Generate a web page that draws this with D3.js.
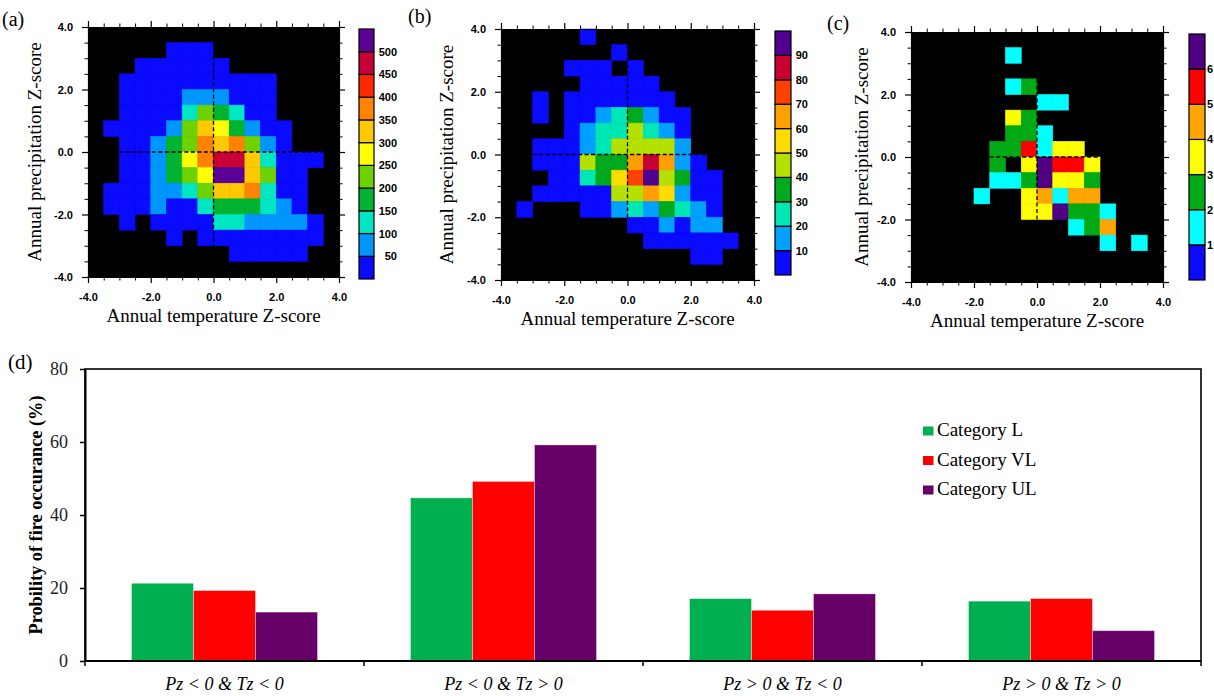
<!DOCTYPE html>
<html><head><meta charset="utf-8">
<script src="https://cdn.jsdelivr.net/npm/d3@7"></script>
<style>body{margin:0;background:#fff;} svg{display:block;}</style>
</head><body>
<svg id="fig" width="1214" height="696"></svg>
<script>
// ---------- joint distribution data (0.5 x 0.5 Z-score bins) ----------
// rows: precipitation Z from +4 (top) down to -4; columns: temperature Z from -4 to +4
const zMajorTicks = [-4, -2, 0, 2, 4];
const zMinorTicks = [-3.5, -3, -2.5, -1.5, -1, -0.5, 0.5, 1, 1.5, 2.5, 3, 3.5];
const binWidth = 0.5;

const countsL = [
  [0,0,0,0,0,0,0,0,0,0,0,0,0,0,0,0],
  [0,0,0,0,0,8,14,11,0,0,0,0,0,0,0,0],
  [0,0,0,6,18,25,30,27,12,0,0,0,0,0,0,0],
  [0,0,9,22,34,41,46,44,38,29,17,7,0,0,0,0],
  [0,0,14,31,43,48,72,88,64,45,26,10,0,0,0,0],
  [0,0,19,36,47,49,118,214,168,124,41,15,0,0,0,0],
  [0,11,24,40,46,83,236,318,284,186,92,33,9,0,0,0],
  [0,0,27,44,93,162,229,362,336,371,218,78,21,0,0,0],
  [0,0,25,42,88,171,268,377,472,486,331,137,38,16,6,0],
  [0,0,22,39,81,158,241,291,513,532,323,207,34,12,0,0],
  [0,13,28,45,76,63,129,233,316,342,368,112,30,9,0,0],
  [0,10,26,37,54,44,40,108,176,169,152,119,58,16,0,0],
  [0,0,15,0,33,47,46,43,131,112,77,69,61,52,18,0],
  [0,0,0,0,0,12,0,38,42,46,44,39,31,24,11,0],
  [0,0,0,0,0,0,0,0,0,20,26,22,17,8,0,0],
  [0,0,0,0,0,0,0,0,0,0,0,0,0,0,0,0]
];
const levelsL = [50,100,150,200,250,300,350,400,450,500];
const colorsL = ["#0a0aff","#0096ff","#00e6c3","#00b432","#6ed200","#ffff00","#ffc800","#ff8200","#ff2800","#c80037","#5a0096"];

const countsVL = [
  [0,0,0,0,0,2,0,0,0,0,0,0,0,0,0,0],
  [0,0,0,0,0,0,0,1,0,0,0,0,0,0,0,0],
  [0,0,0,0,2,3,1,0,2,0,0,0,0,0,0,0],
  [0,0,0,0,0,4,6,5,3,2,0,0,0,0,0,0],
  [0,0,1,0,3,6,8,9,7,5,2,0,0,0,0,0],
  [0,0,1,0,5,8,14,24,33,16,7,3,0,0,0,0],
  [0,0,0,0,6,13,22,27,43,25,12,4,0,0,0,0],
  [0,0,2,5,8,17,28,44,47,42,41,14,0,0,0,0],
  [0,0,3,6,9,46,36,38,63,84,66,18,5,0,0,0],
  [0,0,0,4,8,24,35,56,76,93,45,32,7,3,0,0],
  [0,0,2,5,7,9,8,44,46,64,57,17,6,2,0,0],
  [0,1,0,0,0,6,9,13,23,16,34,26,12,5,0,0],
  [0,0,0,0,0,0,0,0,7,8,14,9,12,11,0,0],
  [0,0,0,0,0,0,0,0,0,5,6,4,3,2,1,0],
  [0,0,0,0,0,0,0,0,0,0,0,0,3,2,0,0],
  [0,0,0,0,0,0,0,0,0,0,0,0,0,0,0,0]
];
const levelsVL = [10,20,30,40,50,60,70,80,90];
const colorsVL = ["#0a0aff","#00a0ff","#00e6b4","#00aa1e","#b4e100","#ffdc00","#ffa000","#ff4100","#c80032","#500090"];

const countsUL = [
  [0,0,0,0,0,0,0,0,0,0,0,0,0,0,0,0],
  [0,0,0,0,0,0,1,0,0,0,0,0,0,0,0,0],
  [0,0,0,0,0,0,0,0,0,0,0,0,0,0,0,0],
  [0,0,0,0,0,0,1,2,0,0,0,0,0,0,0,0],
  [0,0,0,0,0,0,0,0,1,1,0,0,0,0,0,0],
  [0,0,0,0,0,0,3,2,0,0,0,0,0,0,0,0],
  [0,0,0,0,0,0,2,2,1,0,0,0,0,0,0,0],
  [0,0,0,0,0,2,2,5,1,3,3,0,0,0,0,0],
  [0,0,0,0,0,2,0,3,6,5,5,3,0,0,0,0],
  [0,0,0,0,0,1,1,2,6,3,3,2,0,0,0,0],
  [0,0,0,0,1,0,0,3,4,1,4,4,0,0,0,0],
  [0,0,0,0,0,0,0,3,3,6,2,2,1,0,0,0],
  [0,0,0,0,0,0,0,0,0,0,1,2,4,0,0,0],
  [0,0,0,0,0,0,0,0,0,0,0,0,1,0,1,0],
  [0,0,0,0,0,0,0,0,0,0,0,0,0,0,0,0],
  [0,0,0,0,0,0,0,0,0,0,0,0,0,0,0,0]
];
const levelsUL = [1,2,3,4,5,6];
const colorsUL = ["#0a0aff","#00ffff","#00aa14","#ffff00","#ffa500","#ff0000","#500082"];

// zero-anomaly reference lines (data units): horizontal span in T, vertical span in P
const crossL  = {t: [-3, 3.5],   p: [-3, 3.5]};
const crossVL = {t: [-3, 2.5],   p: [-2, 3.5]};
const crossUL = {t: [-1.5, 2],   p: [-2, 2.5]};

// ---------- probability of fire occurrence ----------
const quadrants = ["Pz < 0 & Tz < 0", "Pz < 0 & Tz > 0", "Pz > 0 & Tz < 0", "Pz > 0 & Tz > 0"];
const seriesNames = ["Category L", "Category VL", "Category UL"];
const probL  = [21.3, 44.7, 17.1, 16.4];
const probVL = [19.3, 49.2, 13.9, 17.1];
const probUL = [13.4, 59.2, 18.4, 8.3];
const seriesColors = ["#00b050", "#ff0000", "#660066"];
const probTicks = [0, 20, 40, 60, 80];

// ---------- drawing ----------
const svg = d3.select("#fig");
const SERIF = "'Liberation Serif', 'Times New Roman', serif";
const SANS = "'Liberation Sans', Arial, Helvetica, sans-serif";
const fmt1 = d => d.toFixed(1);

function heatPanel(cfg) {
  const g = svg.append("g");
  const x = d3.scaleLinear().domain([-4, 4]).range([cfg.left, cfg.right]);
  const y = d3.scaleLinear().domain([-4, 4]).range([cfg.bottom, cfg.top]);
  const color = d3.scaleThreshold().domain(cfg.levels).range(cfg.colors);

  g.append("rect").attr("x", cfg.left).attr("y", cfg.top)
    .attr("width", cfg.right - cfg.left).attr("height", cfg.bottom - cfg.top)
    .attr("fill", "#000");

  const cells = [];
  cfg.counts.forEach((row, j) => row.forEach((v, i) => {
    if (v > 0) cells.push({t: -4 + i * binWidth, p: 4 - j * binWidth, v});
  }));
  g.selectAll("rect.cell").data(cells).join("rect").attr("class", "cell")
    .attr("x", d => x(d.t)).attr("y", d => y(d.p))
    .attr("width", d => x(d.t + binWidth) - x(d.t))
    .attr("height", d => y(d.p - binWidth) - y(d.p))
    .attr("fill", d => color(d.v))
    .attr("stroke", d => color(d.v)).attr("stroke-width", 0.6);

  // dashed zero lines
  g.append("line").attr("x1", x(cfg.cross.t[0])).attr("x2", x(cfg.cross.t[1]))
    .attr("y1", y(0)).attr("y2", y(0))
    .attr("stroke", "#000").attr("stroke-width", 1.3).attr("stroke-dasharray", "4,2.5");
  g.append("line").attr("x1", x(0)).attr("x2", x(0))
    .attr("y1", y(cfg.cross.p[1])).attr("y2", y(cfg.cross.p[0]))
    .attr("stroke", "#000").attr("stroke-width", 1.3).attr("stroke-dasharray", "4,2.5");

  // axes: outward ticks on all sides, labels on left and bottom
  const sides = [
    {make: () => d3.axisBottom(x), tr: `translate(0,${cfg.bottom})`, lab: true, pad: 10},
    {make: () => d3.axisTop(x), tr: `translate(0,${cfg.top})`, lab: false, pad: 3},
    {make: () => d3.axisLeft(y), tr: `translate(${cfg.left},0)`, lab: true, pad: 9},
    {make: () => d3.axisRight(y), tr: `translate(${cfg.right},0)`, lab: false, pad: 3}
  ];
  sides.forEach(a => {
    const major = g.append("g").attr("transform", a.tr)
      .call(a.make().tickValues(zMajorTicks).tickSize(6).tickSizeOuter(0).tickPadding(a.pad)
        .tickFormat(a.lab ? fmt1 : ""));
    major.selectAll("text").attr("font-family", SANS).attr("font-weight", "bold")
      .attr("font-size", 11).attr("fill", "#000");
    major.selectAll("line").attr("stroke", "#000").attr("stroke-width", 1.2);
    major.select(".domain").attr("stroke", "#000").attr("stroke-width", 1.2);
    const minor = g.append("g").attr("transform", a.tr)
      .call(a.make().tickValues(zMinorTicks).tickSize(3.5).tickSizeOuter(0).tickFormat(""));
    minor.select(".domain").remove();
    minor.selectAll("line").attr("stroke", "#000").attr("stroke-width", 1);
  });

  // axis titles
  g.append("text").attr("x", (cfg.left + cfg.right) / 2).attr("y", cfg.bottom + 45)
    .attr("text-anchor", "middle").attr("font-family", SERIF).attr("font-size", 19)
    .text("Annual temperature Z-score");
  g.append("text")
    .attr("transform", `translate(${cfg.left - cfg.yTitleGap},${(cfg.top + cfg.bottom) / 2}) rotate(-90)`)
    .attr("text-anchor", "middle").attr("font-family", SERIF).attr("font-size", 19)
    .text("Annual precipitation Z-score");

  // panel letter
  g.append("text").attr("x", cfg.letterX).attr("y", cfg.letterY)
    .attr("font-family", SERIF).attr("font-size", 20).text(cfg.letter);

  // colour bar
  const n = cfg.colors.length;
  const cb = d3.scaleLinear().domain([0, n]).range([cfg.cb.y1, cfg.cb.y0]);
  g.selectAll("rect.cb").data(cfg.colors).join("rect").attr("class", "cb")
    .attr("x", cfg.cb.x).attr("width", cfg.cb.w)
    .attr("y", (c, k) => cb(k + 1)).attr("height", (c, k) => cb(k) - cb(k + 1))
    .attr("fill", c => c).attr("stroke", "#000").attr("stroke-width", 1.2);
  g.selectAll("text.cbl").data(cfg.levels).join("text").attr("class", "cbl")
    .attr("x", cfg.cb.labelX).attr("y", (v, k) => cb(k + 1))
    .attr("dy", "0.36em").attr("text-anchor", "end")
    .attr("font-family", SANS).attr("font-weight", "bold").attr("font-size", 11)
    .text(v => v);
}

heatPanel({counts: countsL, levels: levelsL, colors: colorsL, cross: crossL,
  left: 88, right: 339, top: 27, bottom: 277, yTitleGap: 47,
  letter: "(a)", letterX: 2, letterY: 26,
  cb: {x: 359, w: 15, y0: 29, y1: 279, labelX: 397}});
heatPanel({counts: countsVL, levels: levelsVL, colors: colorsVL, cross: crossVL,
  left: 501, right: 754, top: 29, bottom: 280, yTitleGap: 48,
  letter: "(b)", letterX: 408, letterY: 23,
  cb: {x: 775, w: 16, y0: 31, y1: 275, labelX: 808}});
heatPanel({counts: countsUL, levels: levelsUL, colors: colorsUL, cross: crossUL,
  left: 911, right: 1163, top: 32, bottom: 282, yTitleGap: 43,
  letter: "(c)", letterX: 827, letterY: 30,
  cb: {x: 1189, w: 16, y0: 34, y1: 280, labelX: 1213}});

// ---------- grouped bar chart ----------
(function () {
  const left = 85, right = 1201, top = 369, bottom = 661;
  const g = svg.append("g");
  const x0 = d3.scaleBand().domain(quadrants).range([left, right]).padding(0);
  const x1 = d3.scaleBand().domain(seriesNames).range([0, x0.bandwidth()])
    .paddingInner(0).paddingOuter(0.75);
  const y = d3.scaleLinear().domain([0, 80]).range([bottom, top]);
  const color = d3.scaleOrdinal().domain(seriesNames).range(seriesColors);
  const values = [probL, probVL, probUL];

  const rows = quadrants.map((q, qi) => ({q, bars: seriesNames.map((s, si) => ({s, v: values[si][qi]}))}));
  g.selectAll("g.grp").data(rows).join("g").attr("class", "grp")
    .attr("transform", d => `translate(${x0(d.q)},0)`)
    .selectAll("rect").data(d => d.bars).join("rect")
    .attr("x", d => x1(d.s)).attr("width", x1.bandwidth())
    .attr("y", d => y(d.v)).attr("height", d => y(0) - y(d.v))
    .attr("fill", d => color(d.s))
    .attr("stroke", "#ffffff").attr("stroke-opacity", 0.45).attr("stroke-width", 0.8);

  // frame
  g.append("rect").attr("x", left).attr("y", top).attr("width", right - left).attr("height", bottom - top)
    .attr("fill", "none").attr("stroke", "#000").attr("stroke-width", 1.6);

  // y axis
  const ya = g.append("g").attr("transform", `translate(${left},0)`)
    .call(d3.axisLeft(y).tickValues(probTicks).tickSize(5).tickSizeOuter(0).tickPadding(12));
  ya.select(".domain").attr("stroke", "#000").attr("stroke-width", 2);
  ya.selectAll("line").attr("stroke", "#000").attr("stroke-width", 1.5);
  ya.selectAll("text").attr("font-family", SERIF).attr("font-size", 18).attr("fill", "#222");

  // x axis: boundary ticks and category labels
  const bounds = quadrants.map(q => x0(q)).concat([right]);
  g.selectAll("line.bt").data(bounds).join("line").attr("class", "bt")
    .attr("x1", d => d).attr("x2", d => d).attr("y1", bottom).attr("y2", bottom + 5)
    .attr("stroke", "#000").attr("stroke-width", 1.5);
  g.append("line").attr("x1", left).attr("x2", right).attr("y1", bottom).attr("y2", bottom)
    .attr("stroke", "#000").attr("stroke-width", 2);
  const xa = g.append("g").attr("transform", `translate(0,${bottom})`)
    .call(d3.axisBottom(x0).tickSize(0).tickPadding(0));
  xa.select(".domain").remove();
  xa.selectAll("text").attr("y", 29).attr("dy", 0)
    .attr("font-family", SERIF).attr("font-style", "italic").attr("font-size", 18).attr("fill", "#000");

  // y title
  g.append("text").attr("transform", `translate(42,${(top + bottom) / 2}) rotate(-90)`)
    .attr("text-anchor", "middle").attr("font-family", SERIF).attr("font-weight", "bold")
    .attr("font-size", 18.3).text("Probility of fire occurance (%)");

  // panel letter
  g.append("text").attr("x", 8).attr("y", 369).attr("font-family", SERIF).attr("font-size", 21).text("(d)");

  // legend
  const leg = g.selectAll("g.leg").data(seriesNames).join("g").attr("class", "leg")
    .attr("transform", (d, i) => `translate(923,${436 + i * 29.5})`);
  leg.append("rect").attr("x", 0).attr("y", -9.5).attr("width", 10.5).attr("height", 9)
    .attr("fill", d => color(d));
  leg.append("text").attr("x", 14).attr("y", 0).attr("font-family", SERIF).attr("font-size", 19).text(d => d);
})();
</script>
</body></html>
